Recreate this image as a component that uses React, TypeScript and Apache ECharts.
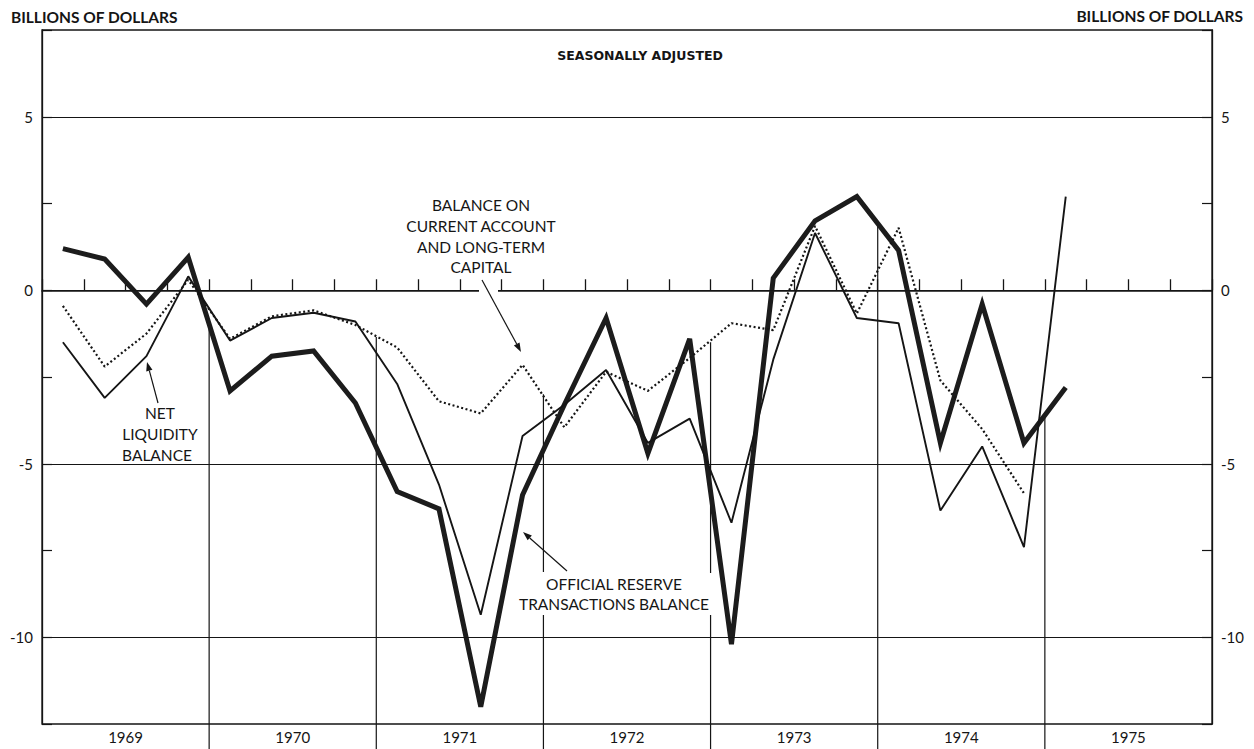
import React, { useEffect, useRef } from "react";
import * as echarts from "echarts";

// Quarterly data, 1969 Q1 onward (billions of dollars, seasonally adjusted)
const years = ["1969", "1970", "1971", "1972", "1973", "1974", "1975"];
const officialReserve = [
  1.2, 0.9, -0.4, 0.95,
  -2.9, -1.9, -1.75, -3.25,
  -5.8, -6.3, -12.0, -5.9,
  -3.3, -0.8, -4.7, -1.4,
  -10.2, 0.35, 2.0, 2.7,
  1.15, -4.4, -0.4, -4.4,
  -2.8,
];
const netLiquidity = [
  -1.5, -3.1, -1.9, 0.4,
  -1.45, -0.8, -0.65, -0.9,
  -2.7, -5.6, -9.35, -4.2,
  -3.3, -2.3, -4.4, -3.7,
  -6.7, -2.0, 1.65, -0.8,
  -0.95, -6.35, -4.5, -7.4,
  2.7,
];
const currentAccountLTCapital = [
  -0.45, -2.2, -1.25, 0.3,
  -1.4, -0.75, -0.58, -1.0,
  -1.65, -3.2, -3.55, -2.15,
  -3.95, -2.35, -2.9, -1.95,
  -0.95, -1.15, 1.85, -0.67,
  1.8, -2.6, -4.0, -5.85,
];
// height (in billions) reached by the vertical year dividers
const dividerTops = [-0.95, -1.35, -3.0, -1.5, 1.9, -3.55];
const gridValues = [5, 0, -5, -10];

const FONT = 'Lato, "DejaVu Sans", sans-serif';
const INK = "#151515";

function arrow(x1: number, y1: number, x2: number, y2: number) {
  const a = Math.atan2(y2 - y1, x2 - x1);
  const L = 9;
  const W = 3.2;
  const bx = x2 - L * Math.cos(a);
  const by = y2 - L * Math.sin(a);
  return [
    {
      type: "line",
      z: 100,
      shape: { x1, y1, x2: bx, y2: by },
      style: { stroke: INK, lineWidth: 1.2 },
    },
    {
      type: "polygon",
      z: 100,
      shape: {
        points: [
          [x2, y2],
          [bx + W * Math.sin(a), by - W * Math.cos(a)],
          [bx - W * Math.sin(a), by + W * Math.cos(a)],
        ],
      },
      style: { fill: INK },
    },
  ];
}

function txt(text: string, x: number, y: number, size: number, weight: any = "normal", align = "center", family = FONT) {
  return {
    type: "text",
    z: 100,
    x,
    y,
    style: {
      text,
      fill: INK,
      font: `${weight} ${size}px ${family}`,
      textAlign: align,
      textVerticalAlign: "middle",
    },
  };
}

export default function App() {
  const ref = useRef<HTMLDivElement>(null);

  useEffect(() => {
    if (!ref.current) return;
    const chart = echarts.init(ref.current, null, { renderer: "svg" });

    const yAxisBase = (position: "left" | "right") => ({
      type: "value",
      position,
      min: -12.5,
      max: 7.5,
      interval: 2.5,
      axisLine: { show: true, lineStyle: { color: INK, width: 1.3 } },
      axisTick: { show: true, inside: true, length: 10, lineStyle: { color: INK, width: 1.2 } },
      splitLine: { show: false },
      axisLabel: {
        color: INK,
        fontSize: 15,
        fontFamily: FONT,
        margin: 9,
        formatter: (v: number) => (gridValues.includes(v) ? String(v) : ""),
      },
    });

    const option: any = {
      animation: false,
      backgroundColor: "#ffffff",
      grid: {
        left: 42,
        right: 42,
        top: 30,
        bottom: 25,
        show: true,
        borderColor: INK,
        borderWidth: 1.3,
      },
      xAxis: {
        type: "value",
        min: 0,
        max: years.length * 4,
        interval: 1,
        axisLine: { show: true, lineStyle: { color: INK, width: 1.6 } },
        axisTick: { show: true, inside: true, length: 11, lineStyle: { color: INK, width: 1.3 } },
        splitLine: { show: false },
        axisLabel: {
          color: INK,
          fontSize: 15,
          fontFamily: FONT,
          margin: 5,
          formatter: (v: number) => (v % 4 === 2 ? years[(v - 2) / 4] : ""),
        },
      },
      yAxis: [yAxisBase("left"), yAxisBase("right")],
      series: [
        {
          type: "custom",
          silent: true,
          clip: false,
          z: 1,
          renderItem: (params: any, api: any) => {
            const x = api.value(0);
            const top = api.coord([x, api.value(1)]);
            const bot = api.coord([x, -12.5]);
            return {
              type: "line",
              shape: { x1: top[0], y1: top[1], x2: top[0], y2: bot[1] + 30 },
              style: { stroke: INK, lineWidth: 1.2 },
            };
          },
          data: dividerTops.map((v, k) => [4 * (k + 1), v]),
        },
        {
          name: "Official reserve transactions balance",
          type: "line",
          z: 3,
          symbol: "none",
          lineStyle: { color: "#1c1c1c", width: 5, join: "miter" },
          data: officialReserve.map((v, i) => [i + 0.5, v]),
        },
        {
          name: "Net liquidity balance",
          type: "line",
          z: 4,
          symbol: "none",
          lineStyle: { color: INK, width: 1.9 },
          data: netLiquidity.map((v, i) => [i + 0.5, v]),
          markLine: {
            silent: true,
            symbol: ["none", "none"],
            label: { show: false },
            lineStyle: { color: INK, width: 1.2, type: "solid" },
            data: gridValues.map((v) => ({ yAxis: v })),
          },
        },
        {
          name: "Balance on current account and long-term capital",
          type: "line",
          z: 5,
          symbol: "none",
          lineStyle: { color: INK, width: 2.2, type: [2, 2.5] },
          data: currentAccountLTCapital.map((v, i) => [i + 0.5, v]),
        },
      ],
      graphic: [
        txt("BILLIONS OF DOLLARS", 11, 17, 15.5, "bold", "left"),
        txt("BILLIONS OF DOLLARS", 1243, 16, 15.5, "bold", "right"),
        txt("SEASONALLY ADJUSTED", 640, 55, 12.5, "bold", "center", '"DejaVu Sans", sans-serif'),
        // gap in the zero line where the arrow crosses
        { type: "rect", z: 90, shape: { x: 479, y: 287, width: 19, height: 6 }, style: { fill: "#fff" } },
        // gaps in the dividers behind the label
        { type: "rect", z: 90, shape: { x: 540, y: 572, width: 9, height: 43 }, style: { fill: "#fff" } },
        { type: "rect", z: 90, shape: { x: 708, y: 573, width: 8, height: 42 }, style: { fill: "#fff" } },
        txt("BALANCE ON", 481, 205, 15.5),
        txt("CURRENT ACCOUNT", 481, 226, 15.5),
        txt("AND LONG-TERM", 481, 247, 15.5),
        txt("CAPITAL", 481, 267, 15.5),
        ...arrow(482, 280, 521, 352),
        txt("NET", 160, 413, 15.5),
        txt("LIQUIDITY", 160, 434, 15.5),
        txt("BALANCE", 157, 455, 15.5),
        ...arrow(158, 403, 147, 362),
        txt("OFFICIAL RESERVE", 614, 584, 15.5),
        txt("TRANSACTIONS BALANCE", 614, 604, 15.5),
        ...arrow(567, 571, 523, 532),
      ],
    };

    chart.setOption(option);
    return () => chart.dispose();
  }, []);

  return (
    <div
      ref={ref}
      style={{ position: "fixed", left: 0, top: 0, width: 1254, height: 749, background: "#fff" }}
    />
  );
}
